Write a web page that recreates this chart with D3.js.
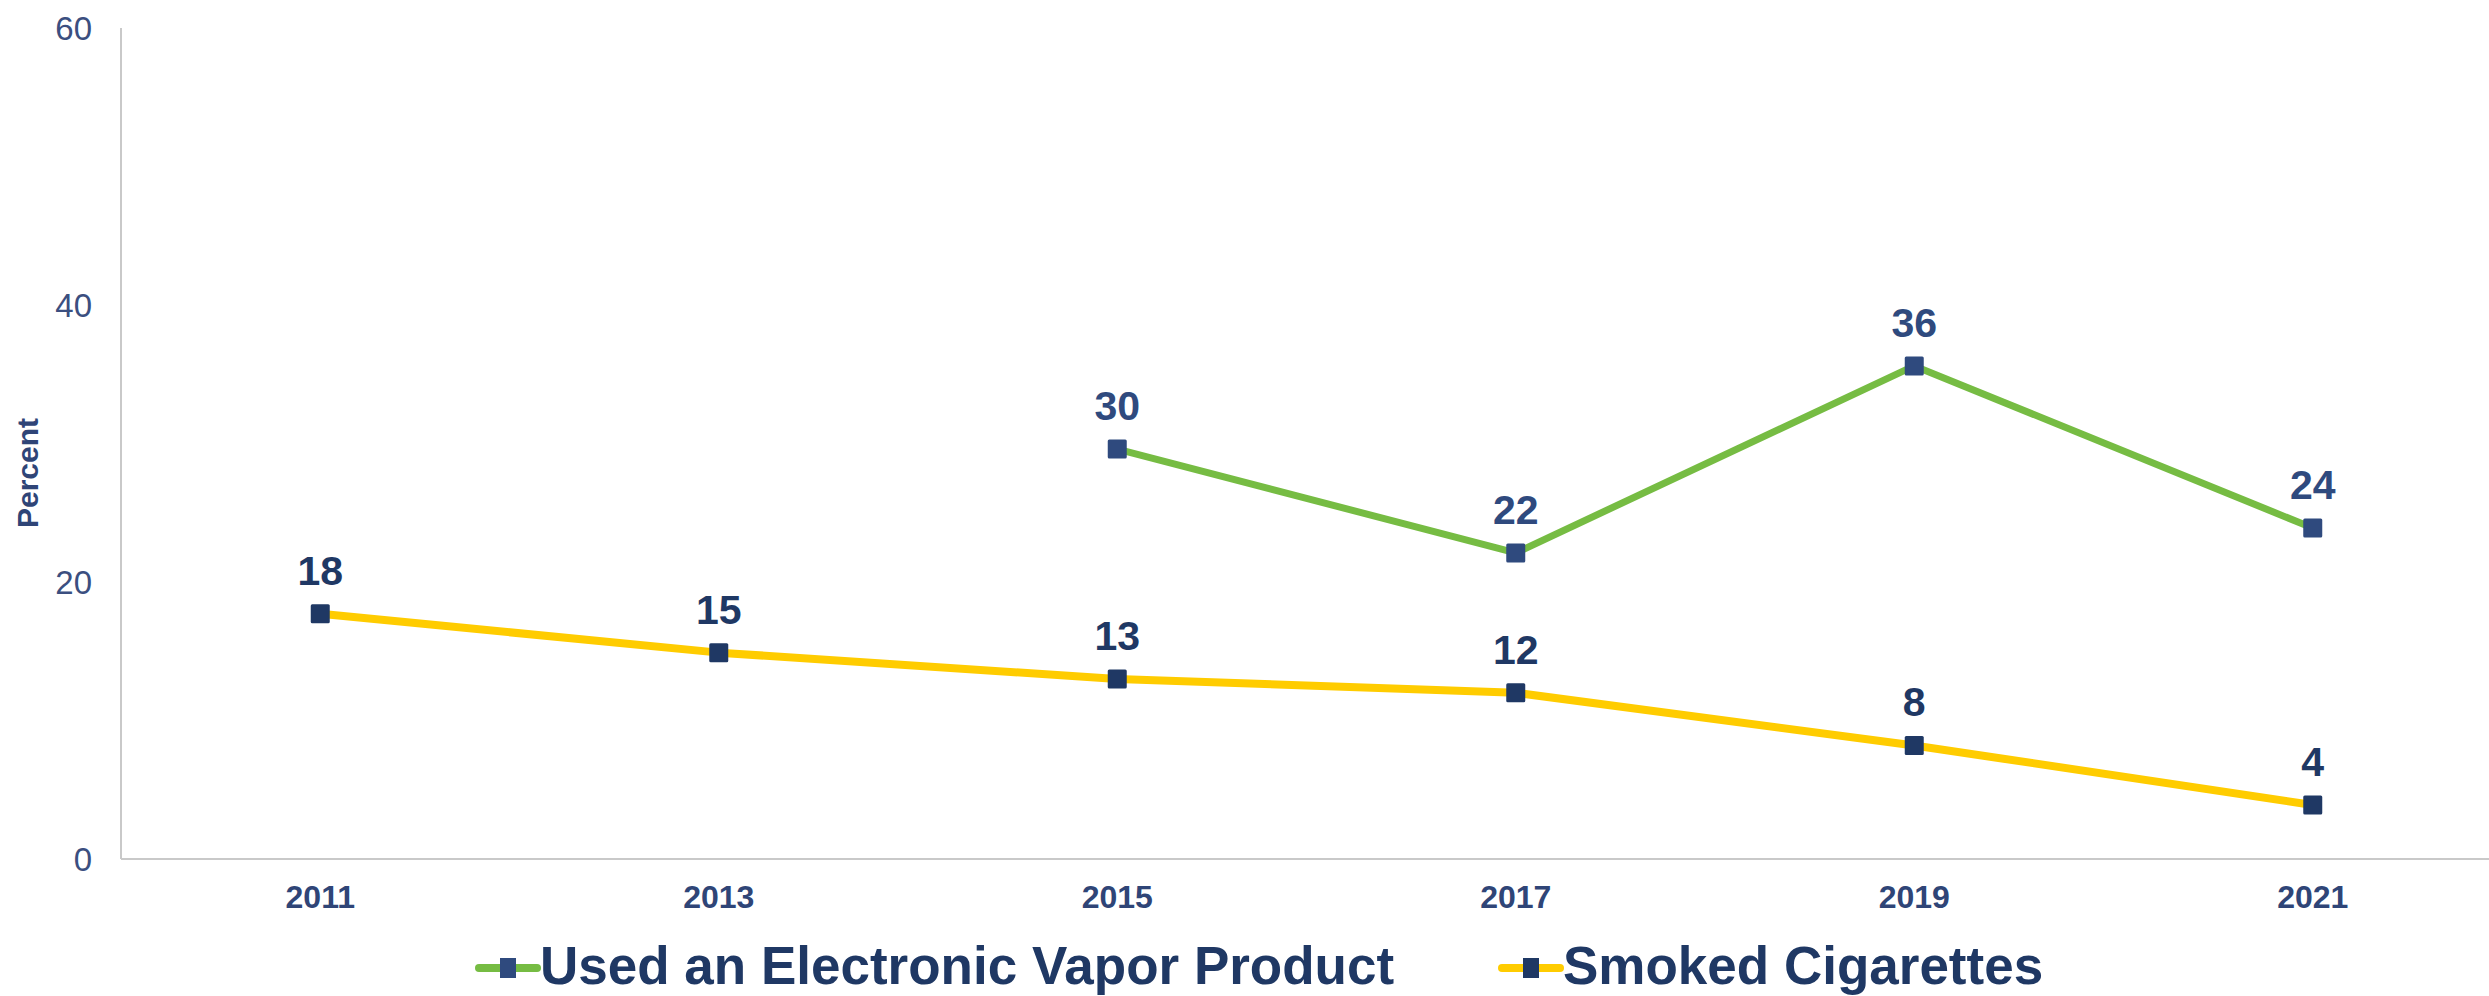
<!DOCTYPE html>
<html><head><meta charset="utf-8">
<script src="https://cdn.jsdelivr.net/npm/d3@7"></script>
<style>html,body{margin:0;padding:0;background:#fff;overflow:hidden}</style>
</head><body><svg id="chart" width="2489" height="996"></svg>
<script>
const years = ["2011","2013","2015","2017","2019","2021"];
const vaporValues = [null, null, 29.6, 22.1, 35.6, 23.9];
const cigaretteValues = [17.7, 14.9, 13.0, 12.0, 8.2, 3.9];
const yTicks = [0, 20, 40, 60];
const seriesNames = ["Used an Electronic Vapor Product", "Smoked Cigarettes"];

(function () {
const svg = d3.select("#chart");
const mLeft = 121, mRight = 2512, mTop = 28, mBottom = 859;
const x = d3.scaleBand().domain(years).range([mLeft, mRight]);
const y = d3.scaleLinear().domain([0, 60]).range([mBottom, mTop]);
const font = "'Liberation Sans', Arial, sans-serif";

// axes lines
svg.append("line").attr("x1", mLeft).attr("x2", mLeft).attr("y1", mTop).attr("y2", mBottom)
  .attr("stroke", "#c9c9c9").attr("stroke-width", 2);
svg.append("line").attr("x1", mLeft).attr("x2", mRight).attr("y1", mBottom).attr("y2", mBottom)
  .attr("stroke", "#c9c9c9").attr("stroke-width", 2);

// y tick labels
svg.selectAll(".ytick").data(yTicks).join("text")
  .attr("x", 92).attr("y", d => y(d)).attr("dy", "0.36em")
  .attr("text-anchor", "end").attr("font-family", font).attr("font-size", 33)
  .attr("fill", "#3b4f80").text(d => d);

// y axis title
svg.append("text").attr("transform", "translate(38,473) rotate(-90)")
  .attr("text-anchor", "middle").attr("font-family", font).attr("font-weight", "bold")
  .attr("font-size", 30).attr("fill", "#2f4577").text("Percent");

// x tick labels
svg.selectAll(".xtick").data(years).join("text")
  .attr("x", d => x(d) + x.bandwidth() / 2).attr("y", 908)
  .attr("text-anchor", "middle").attr("font-family", font).attr("font-weight", "bold")
  .attr("font-size", 32).attr("fill", "#2f4577").text(d => d);

function drawSeries(values, color, markerColor, labelColor, lw) {
  const pts = years.map((yr, i) => ({yr, v: values[i]})).filter(d => d.v != null);
  const line = d3.line().x(d => x(d.yr) + x.bandwidth() / 2).y(d => y(d.v));
  svg.append("path").datum(pts).attr("d", line).attr("fill", "none")
    .attr("stroke", color).attr("stroke-width", lw).attr("stroke-linejoin", "round");
  svg.selectAll(null).data(pts).join("rect")
    .attr("x", d => x(d.yr) + x.bandwidth() / 2 - 9.5).attr("y", d => y(d.v) - 9.5)
    .attr("width", 19).attr("height", 19).attr("rx", 1.5).attr("fill", markerColor);
  svg.selectAll(null).data(pts).join("text")
    .attr("x", d => x(d.yr) + x.bandwidth() / 2).attr("y", d => y(d.v) - 29)
    .attr("text-anchor", "middle").attr("font-family", font).attr("font-weight", "bold")
    .attr("font-size", 41).attr("fill", labelColor).text(d => Math.round(d.v));
}
drawSeries(cigaretteValues, "#ffcc00", "#1f3864", "#1f3864", 8);
drawSeries(vaporValues, "#76bc43", "#2f4a7e", "#2f4a7e", 7);

// legend
const legend = [
  {name: seriesNames[0], color: "#76bc43", marker: "#2f4a7e", x0: 479},
  {name: seriesNames[1], color: "#ffcc00", marker: "#1f3864", x0: 1502}
];
const ly = 968;
legend.forEach(l => {
  svg.append("line").attr("x1", l.x0).attr("x2", l.x0 + 58).attr("y1", ly).attr("y2", ly)
    .attr("stroke", l.color).attr("stroke-width", 8).attr("stroke-linecap", "round");
  svg.append("rect").attr("x", l.x0 + 29 - 8).attr("y", ly - 10).attr("width", 16).attr("height", 20)
    .attr("fill", l.marker);
  svg.append("text").attr("x", l.x0 + 61).attr("y", 984).attr("font-family", font)
    .attr("font-weight", "bold").attr("font-size", 53).attr("fill", "#1f3864").text(l.name);
});
})();
</script></body></html>
